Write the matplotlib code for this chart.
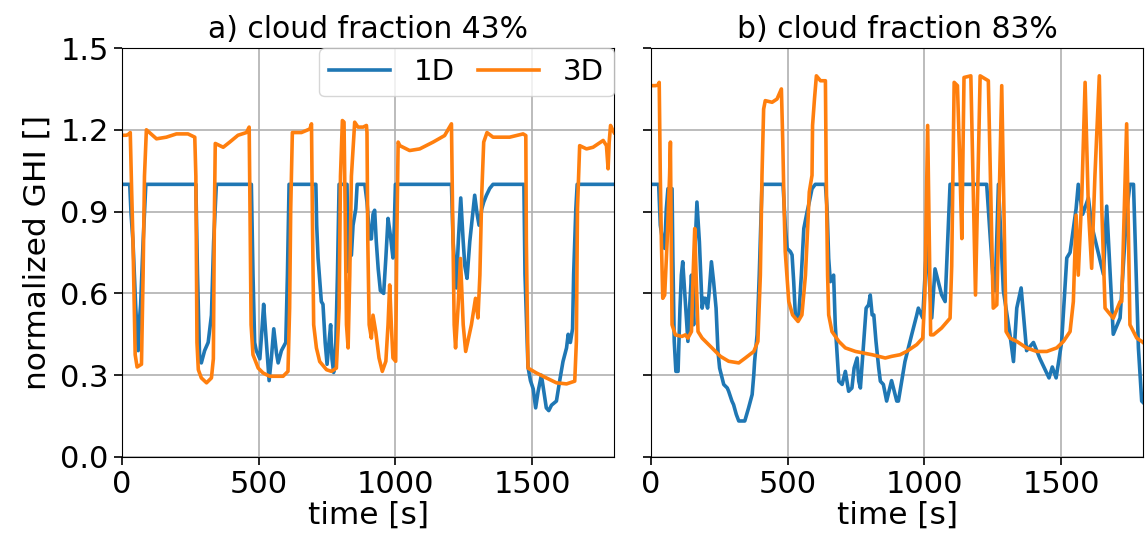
import numpy as np
import matplotlib.pyplot as plt

# panel a) cloud fraction 43%
t_a_1d = [0, 28, 33, 40, 50, 59, 65, 68, 77, 87, 270, 276, 284, 290, 302, 315, 327, 335, 345,
          473, 479, 485, 491, 504, 513, 518, 528, 538, 546, 555, 565, 571, 583, 599, 605, 611,
          709, 712, 717, 729, 735, 743, 750, 757, 763, 768, 774, 782, 788, 794, 823, 827, 833,
          839, 845, 855, 860, 888, 896, 906, 912, 918, 924, 930, 937, 945, 957, 965, 973, 982,
          991, 996, 1000, 1205, 1211, 1223, 1230, 1239, 1248, 1254, 1262, 1272, 1290, 1299,
          1306, 1316, 1323, 1333, 1345, 1357, 1470, 1474, 1485, 1494, 1504, 1513, 1522, 1534,
          1543, 1552, 1561, 1571, 1589, 1601, 1613, 1626, 1632, 1640, 1648, 1652, 1660, 1665, 1800]
ghi_a_1d = [1.0, 1.0, 0.89, 0.79, 0.55, 0.39, 0.52, 0.56, 0.79, 1.0, 1.0, 0.67, 0.35, 0.345, 0.39,
            0.42, 0.52, 0.79, 1.0, 1.0, 0.67, 0.42, 0.39, 0.36, 0.485, 0.56, 0.42, 0.28, 0.36,
            0.47, 0.38, 0.345, 0.39, 0.42, 0.67, 1.0, 1.0, 0.85, 0.73, 0.57, 0.56, 0.42, 0.34,
            0.42, 0.485, 0.36, 0.31, 0.42, 0.67, 1.0, 1.0, 0.68, 0.74, 0.74, 0.85, 0.91, 1.0,
            1.0, 0.935, 0.80, 0.80, 0.89, 0.905, 0.79, 0.69, 0.61, 0.60, 0.73, 0.875, 0.81,
            0.73, 0.85, 1.0, 1.0, 0.79, 0.62, 0.79, 0.95, 0.79, 0.70, 0.655, 0.79, 0.96, 0.89,
            0.85, 0.91, 0.935, 0.96, 0.985, 1.0, 1.0, 0.67, 0.33, 0.28, 0.25, 0.18, 0.24, 0.30,
            0.24, 0.18, 0.17, 0.19, 0.205, 0.28, 0.35, 0.40, 0.45, 0.42, 0.47, 0.67, 0.91, 1.0, 1.0]

t_a_3d = [0, 16, 26, 30, 35, 40, 48, 55, 71, 77, 82, 89, 126, 162, 199, 241, 266, 270, 274, 279,
          290, 309, 327, 334, 338, 341, 370, 394, 424, 455, 465, 468, 472, 479, 498, 516, 540,
          589, 607, 613, 617, 623, 656, 687, 693, 696, 701, 711, 723, 748, 766, 784, 794, 799,
          806, 812, 816, 821, 827, 833, 839, 851, 863, 882, 894, 896, 899, 904, 912, 918, 928,
          940, 952, 965, 973, 979, 985, 991, 1001, 1005, 1010, 1016, 1052, 1089, 1138, 1180,
          1205, 1209, 1215, 1220, 1229, 1238, 1248, 1257, 1278, 1293, 1302, 1309, 1316, 1323,
          1335, 1357, 1418, 1467, 1477, 1479, 1485, 1516, 1552, 1589, 1626, 1656, 1662, 1666,
          1674, 1699, 1723, 1760, 1772, 1778, 1782, 1787, 1793, 1800]
ghi_a_3d = [1.18, 1.18, 1.185, 1.19, 0.98, 0.79, 0.375, 0.33, 0.34, 0.67, 1.03, 1.2, 1.167, 1.173,
            1.185, 1.185, 1.173, 1.03, 0.42, 0.32, 0.29, 0.272, 0.29, 0.36, 0.91, 1.15, 1.136,
            1.155, 1.18, 1.19, 1.21, 0.91, 0.485, 0.375, 0.326, 0.308, 0.296, 0.296, 0.314,
            0.546, 0.91, 1.19, 1.19, 1.203, 1.222, 0.91, 0.485, 0.40, 0.35, 0.32, 0.314, 0.326,
            0.546, 1.03, 1.234, 1.228, 0.91, 0.485, 0.40, 0.667, 1.03, 1.228, 1.21, 1.21, 1.216,
            1.19, 0.79, 0.485, 0.436, 0.52, 0.46, 0.363, 0.314, 0.351, 0.485, 0.631, 0.485,
            0.363, 0.351, 0.79, 1.155, 1.142, 1.124, 1.13, 1.155, 1.179, 1.222, 0.91, 0.485,
            0.40, 0.546, 0.728, 0.485, 0.387, 0.485, 0.582, 0.51, 0.667, 0.97, 1.155, 1.19,
            1.173, 1.173, 1.185, 1.179, 0.79, 0.326, 0.308, 0.29, 0.272, 0.268, 0.278, 0.424,
            0.91, 1.142, 1.13, 1.136, 1.161, 1.142, 1.057, 1.155, 1.216, 1.203, 1.19]

# panel b) cloud fraction 83%
t_b_1d = [0, 28, 34, 43, 50, 56, 62, 77, 80, 85, 91, 99, 106, 111, 116, 123, 135, 141, 148, 156,
          162, 168, 177, 187, 193, 199, 207, 213, 221, 229, 238, 245, 251, 266, 279, 284, 296,
          302, 312, 321, 343, 357, 370, 376, 379, 388, 396, 406, 483, 491, 498, 510, 516, 522,
          528, 540, 550, 559, 571, 579, 589, 601, 638, 644, 650, 656, 668, 674, 687, 699, 711,
          723, 735, 743, 754, 760, 766, 774, 787, 796, 802, 809, 815, 823, 833, 839, 850, 862,
          880, 899, 905, 929, 954, 972, 978, 994, 1009, 1027, 1039, 1063, 1076, 1094, 1228,
          1250, 1259, 1271, 1289, 1313, 1326, 1338, 1354, 1374, 1399, 1423, 1456, 1468, 1482,
          1502, 1521, 1533, 1555, 1563, 1579, 1600, 1612, 1655, 1667, 1691, 1716, 1740, 1752,
          1765, 1783, 1795, 1800]
ghi_b_1d = [1.0, 1.0, 0.85, 0.79, 0.765, 0.91, 0.984, 0.984, 0.728, 0.424, 0.314, 0.314, 0.546,
            0.667, 0.716, 0.607, 0.424, 0.546, 0.667, 0.485, 0.789, 0.935, 0.789, 0.546, 0.582,
            0.582, 0.546, 0.607, 0.716, 0.643, 0.546, 0.387, 0.326, 0.266, 0.253, 0.241, 0.205,
            0.192, 0.156, 0.132, 0.132, 0.18, 0.229, 0.302, 0.351, 0.448, 0.667, 1.0, 1.0, 0.85,
            0.765, 0.753, 0.741, 0.643, 0.521, 0.509, 0.667, 0.838, 0.899, 0.935, 0.984, 1.0,
            1.0, 0.911, 0.728, 0.643, 0.667, 0.485, 0.278, 0.266, 0.314, 0.241, 0.253, 0.326,
            0.363, 0.278, 0.253, 0.363, 0.546, 0.558, 0.594, 0.521, 0.521, 0.424, 0.326, 0.278,
            0.266, 0.205, 0.28, 0.205, 0.205, 0.35, 0.45, 0.52, 0.546, 0.51, 0.79, 0.51, 0.69,
            0.595, 0.57, 1.0, 1.0, 0.67, 0.61, 1.0, 0.61, 0.45, 0.35, 0.546, 0.62, 0.39, 0.42,
            0.36, 0.29, 0.33, 0.29, 0.42, 0.73, 0.75, 0.91, 1.0, 0.89, 0.95, 0.85, 0.67, 0.92,
            0.45, 0.51, 0.9, 1.0, 1.0, 0.40, 0.205, 0.2]

t_b_3d = [0, 16, 26, 30, 34, 38, 43, 50, 59, 68, 71, 74, 77, 89, 113, 126, 135, 148, 154, 160,
          165, 172, 187, 199, 223, 254, 284, 321, 345, 376, 391, 400, 406, 412, 418, 443, 461,
          477, 482, 487, 491, 504, 518, 538, 552, 565, 573, 579, 589, 591, 598, 605, 620, 638,
          641, 646, 650, 662, 687, 711, 748, 809, 857, 880, 911, 935, 972, 994, 1002, 1012,
          1023, 1033, 1063, 1094, 1100, 1109, 1121, 1129, 1137, 1145, 1170, 1187, 1204, 1234,
          1252, 1265, 1283, 1299, 1313, 1338, 1374, 1411, 1448, 1484, 1509, 1533, 1545, 1555,
          1563, 1576, 1588, 1600, 1612, 1624, 1640, 1649, 1661, 1691, 1716, 1722, 1740, 1752,
          1777, 1795, 1800]
ghi_b_3d = [1.362, 1.362, 1.364, 1.374, 1.033, 0.79, 0.582, 0.594, 0.79, 1.033, 1.155, 0.79,
            0.485, 0.448, 0.442, 0.448, 0.436, 0.46, 0.667, 0.838, 0.667, 0.46, 0.436, 0.424,
            0.40, 0.369, 0.351, 0.345, 0.363, 0.387, 0.424, 0.667, 1.033, 1.276, 1.307, 1.301,
            1.313, 1.35, 1.155, 0.911, 0.753, 0.57, 0.521, 0.497, 0.521, 0.667, 0.838, 0.972,
            1.033, 1.216, 1.313, 1.398, 1.38, 1.38, 1.033, 0.667, 0.521, 0.46, 0.424, 0.40,
            0.387, 0.375, 0.363, 0.369, 0.375, 0.387, 0.412, 0.436, 0.60, 1.216, 0.448, 0.448,
            0.473, 0.509, 0.70, 1.374, 1.362, 1.10, 0.801, 1.392, 1.398, 0.594, 1.398, 1.38,
            0.546, 0.558, 1.362, 0.46, 0.436, 0.424, 0.40, 0.387, 0.387, 0.40, 0.424, 0.46,
            0.57, 0.887, 0.667, 0.96, 1.374, 0.911, 0.692, 1.033, 1.398, 0.911, 0.546, 0.509,
            0.57, 0.57, 1.222, 0.485, 0.436, 0.424, 0.42]

titles = ['a) cloud fraction 43%', 'b) cloud fraction 83%']
yticks = [0.0, 0.3, 0.6, 0.9, 1.2, 1.5]
xticks = [0, 500, 1000, 1500]

plt.rcParams['font.family'] = 'DejaVu Sans'
plt.rcParams['font.size'] = 22
fig, axes = plt.subplots(1, 2, figsize=(11.45, 5.47), dpi=100, sharey=True)
fig.subplots_adjust(left=0.1066, right=0.9983, bottom=0.1646, top=0.9122, wspace=0.075)

panels = [(t_a_1d, ghi_a_1d, t_a_3d, ghi_a_3d), (t_b_1d, ghi_b_1d, t_b_3d, ghi_b_3d)]
for ax, (t1, g1, t3, g3), title in zip(axes, panels, titles):
    ax.plot(t1, g1, color='#1f77b4', lw=2.6, label='1D')
    ax.plot(t3, g3, color='#ff7f0e', lw=2.6, label='3D')
    ax.set_xlim(0, 1800)
    ax.set_ylim(0, 1.5)
    ax.set_xticks(xticks)
    ax.set_yticks(yticks)
    ax.grid(True, color='#b0b0b0', lw=1.2)
    ax.set_title(title, fontsize=21.5, pad=7)
    ax.set_xlabel('time [s]', fontsize=22.5, labelpad=1)
    ax.tick_params(length=6, width=1.2, labelsize=22)

axes[0].set_ylabel('normalized GHI []', fontsize=22.5, labelpad=6)
axes[0].legend(loc='upper right', ncol=2, borderaxespad=0, fontsize=21,
               handlelength=2.1, handletextpad=0.8, columnspacing=0.8, borderpad=0.35)

plt.savefig('out.png', dpi=100)
